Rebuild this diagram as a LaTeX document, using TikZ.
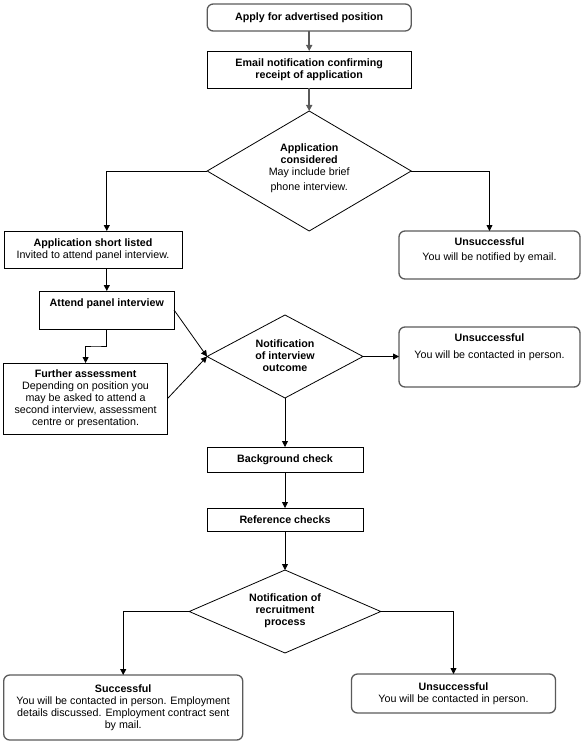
\documentclass[tikz,border=0pt]{standalone}
\usepackage{fontspec}
\setmainfont{Liberation Sans}
\usetikzlibrary{shapes.geometric,arrows.meta,calc}
\definecolor{edgegray}{RGB}{90,90,90}
\begin{document}
\begin{tikzpicture}[x=1pt,y=-1pt,
  every node/.style={font=\fontsize{10.7}{12}\selectfont, align=center, inner sep=0pt, outer sep=0pt},
  sqbox/.style={draw=black, line width=0.8pt, rectangle},
  rbox/.style={draw=edgegray, line width=1.3pt, rectangle, rounded corners=6pt},
  dia/.style={draw=black, line width=0.8pt, diamond, inner sep=0pt},
  arr/.style={draw=black, line width=0.8pt, -{Triangle[length=6pt,width=6pt]}},
  garr/.style={draw=edgegray, line width=1.5pt, -{Triangle[length=6pt,width=6pt]}}]
\useasboundingbox (0,0) rectangle (583,743);

\node[rbox, minimum width=204pt, minimum height=27pt] (box1) at (309.2,17.5) {\textbf{Apply for advertised position}};
\node[sqbox, minimum width=204pt, minimum height=37pt] (box2) at (309.2,69.5) {\textbf{Email notification confirming}\\\textbf{receipt of application}};
\node[dia, minimum width=204pt, minimum height=120pt] (d1) at (309.2,171) {};
\node (d1t) at (309.2,168.5) {\textbf{Application}\\\textbf{considered}\\May include brief\\[3pt]phone interview.};

\node[sqbox, minimum width=178pt, minimum height=37pt] (short) at (93,249.5) {\textbf{Application short listed}\\Invited to attend panel interview.};
\node[rbox, minimum width=181pt, minimum height=48pt] (uns1) at (489.5,255) {};
\node (uns1t) at (489.5,250.5) {\textbf{Unsuccessful}\\[3pt]You will be notified by email.};

\node[sqbox, minimum width=134.5pt, minimum height=38pt] (attend) at (106.8,310) {};
\node (attendt) at (106.8,304) {\textbf{Attend panel interview}};

\node[sqbox, minimum width=164pt, minimum height=71pt] (further) at (85.6,398.5) {\textbf{Further assessment}\\Depending on position you\\may be asked to attend a\\second interview, assessment\\centre or presentation.};

\node[dia, minimum width=156pt, minimum height=83pt] (d2) at (285,356.5) {};
\node (d2t) at (285,356) {\textbf{Notification}\\\textbf{of interview}\\\textbf{outcome}};

\node[rbox, minimum width=181pt, minimum height=60pt] (uns2) at (489.5,357) {};
\node (uns2t) at (489.5,347.5) {\textbf{Unsuccessful}\\[5pt]You will be contacted in person.};

\node[sqbox, minimum width=156pt, minimum height=25pt] (bg) at (285,459.5) {\textbf{Background check}};
\node[sqbox, minimum width=156pt, minimum height=23pt] (ref) at (285,519.5) {\textbf{Reference checks}};

\node[dia, minimum width=191.5pt, minimum height=83pt] (d3) at (285,611.5) {};
\node (d3t) at (285,611) {\textbf{Notification of}\\\textbf{recruitment}\\\textbf{process}};

\node[rbox, minimum width=239pt, minimum height=65pt] (succ) at (123.2,707.5) {\textbf{Successful}\\You will be contacted in person. Employment\\details discussed. Employment contract sent\\by mail.};
\node[rbox, minimum width=204pt, minimum height=39pt] (uns3) at (453.5,693.5) {\textbf{Unsuccessful}\\You will be contacted in person.};

\coordinate (mid1) at ($(attend.south)!0.5!(further.north)$);

\draw[garr] (box1.south) -- (box2.north);
\draw[garr] (box2.south) -- (d1.north);
\draw[arr] (d1.west) -| (attend.north |- short.north);
\draw[arr] (d1.east) -| (uns1.north);
\draw[arr] (attend.north |- short.south) -- (attend.north);
\draw[arr] (attend.south) |- (mid1) -| (further.north);
\draw[arr] (attend.east) -- (d2.west);
\draw[arr] (further.east) -- (d2.west);
\draw[arr] (d2.east) -- (d2.east -| uns2.west);
\draw[arr] (d2.south) -- (bg.north);
\draw[arr] (bg.south) -- (ref.north);
\draw[arr] (ref.south) -- (d3.north);
\draw[arr] (d3.west) -| (succ.north);
\draw[arr] (d3.east) -| (uns3.north);
\end{tikzpicture}
\end{document}
